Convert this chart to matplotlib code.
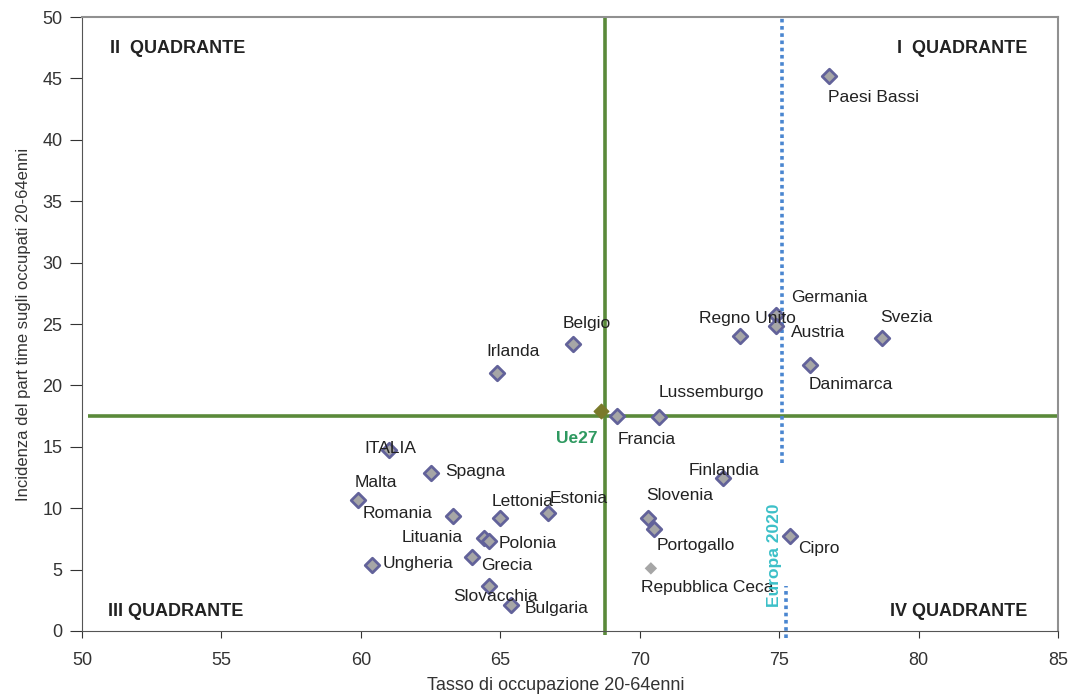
import numpy as np
import matplotlib
matplotlib.use("Agg")
import matplotlib.pyplot as plt

plt.rcParams['font.family'] = ['Liberation Sans', 'DejaVu Sans']

# data
countries = ["Paesi Bassi", "Germania", "Austria", "Regno Unito", "Svezia", "Danimarca",
             "Belgio", "Irlanda", "Lussemburgo", "Francia", "Finlandia", "Slovenia",
             "Portogallo", "Cipro", "ITALIA", "Spagna", "Malta", "Romania",
             "Lettonia", "Estonia", "Lituania", "Polonia", "Grecia", "Ungheria",
             "Slovacchia", "Bulgaria"]
employment = [76.8, 74.9, 74.9, 73.6, 78.7, 76.1,
              67.6, 64.9, 70.7, 69.2, 73.0, 70.3,
              70.5, 75.4, 61.0, 62.5, 59.9, 63.3,
              65.0, 66.7, 64.4, 64.6, 64.0, 60.4,
              64.6, 65.4]
part_time = [45.2, 25.7, 24.8, 24.0, 23.9, 21.7,
             23.4, 21.0, 17.4, 17.5, 12.5, 9.2,
             8.3, 7.7, 14.7, 12.9, 10.7, 9.4,
             9.2, 9.6, 7.6, 7.3, 6.0, 5.4,
             3.7, 2.1]

# Czech Republic drawn differently in the original
cz_name = "Repubblica Ceca"
cz_employment = 70.4
cz_part_time = 5.1

# EU27 average and Europe 2020 target
eu_employment = 68.6
eu_part_time = 17.9
eu_vline = 68.75
eu_hline = 17.5
target_2020 = 75.1

# label offsets in pixels (dx, dy, ha)
offsets = {
    "Paesi Bassi": (-1, -22, 'left'), "Germania": (15, 18, 'left'),
    "Austria": (15, -6, 'left'), "Regno Unito": (7, 18, 'center'),
    "Svezia": (-2, 20, 'left'), "Danimarca": (-1, -20, 'left'),
    "Belgio": (14, 20, 'center'), "Irlanda": (16, 22, 'center'),
    "Lussemburgo": (-1, 25, 'left'), "Francia": (0, -23, 'left'),
    "Finlandia": (1, 7, 'center'), "Slovenia": (-2, 23, 'left'),
    "Portogallo": (3, -16, 'left'), "Cipro": (8, -12, 'left'),
    "ITALIA": (2, 2, 'center'), "Spagna": (15, 1, 'left'),
    "Malta": (-3, 17, 'left'), "Romania": (-20, 2, 'right'),
    "Lettonia": (-9, 17, 'left'), "Estonia": (2, 15, 'left'),
    "Lituania": (-21, 0, 'right'), "Polonia": (9, -2, 'left'),
    "Grecia": (9, -8, 'left'), "Ungheria": (11, 1, 'left'),
    "Slovacchia": (-36, -11, 'left'), "Bulgaria": (13, -3, 'left'),
}

fig = plt.figure(figsize=(10.77, 6.98), dpi=100)
ax = fig.add_axes([0.0761, 0.096, 0.9063, 0.8796])

green = '#5a8a3a'
ax.plot([50.2, 85], [eu_hline, eu_hline], color=green, lw=2.6, zorder=2, solid_capstyle='butt')
ax.plot([eu_vline, eu_vline], [-0.3, 50], color=green, lw=2.6, zorder=2, clip_on=False,
        solid_capstyle='butt')

blue = '#4a86d0'
ax.plot([target_2020, target_2020], [13.7, 50], color=blue, lw=2.6, ls=(0, (1, 1)), zorder=2)
ax.plot([target_2020 + 0.15, target_2020 + 0.15], [-0.6, 3.7], color=blue, lw=2.6,
        ls=(0, (1, 1)), zorder=2, clip_on=False)

ax.scatter(employment, part_time, marker='D', s=55, facecolor='#a6a6a6',
           edgecolor='#62629a', linewidth=2, zorder=4)
ax.scatter([cz_employment], [cz_part_time], marker='D', s=40, facecolor='#a6a6a6',
           edgecolor='none', zorder=4)
ax.scatter([eu_employment], [eu_part_time], marker='D', s=55, facecolor='#7a7a2a',
           edgecolor='#7a7a2a', zorder=5)

lab = dict(fontsize=12.5, color='#222222', va='center', zorder=6)
for name, x, y in zip(countries, employment, part_time):
    dx, dy, ha = offsets[name]
    ax.annotate(name, (x, y), xytext=(dx, dy), textcoords='offset pixels', ha=ha, **lab)
ax.annotate(cz_name, (cz_employment, cz_part_time), xytext=(-10, -19),
            textcoords='offset pixels', ha='left', **lab)
ax.annotate("Ue27", (eu_employment, eu_part_time), xytext=(-3, -27),
            textcoords='offset pixels', ha='right', va='center', fontsize=12.5,
            fontweight='bold', color='#2e9960', zorder=6)
ax.text(target_2020 - 0.25, 6.2, "Europa 2020", rotation=90, ha='center', va='center',
        fontsize=12.5, fontweight='bold', color='#3cc0c8', zorder=6)

qkw = dict(fontsize=13, fontweight='bold', color='#222222', va='center')
ax.text(51.0, 47.4, "II  QUADRANTE", ha='left', **qkw)
ax.text(83.9, 47.4, "I  QUADRANTE", ha='right', **qkw)
ax.text(50.95, 1.6, "III QUADRANTE", ha='left', **qkw)
ax.text(83.9, 1.6, "IV QUADRANTE", ha='right', **qkw)

ax.set_xlim(50, 85)
ax.set_ylim(0, 50)
ax.set_xticks(np.arange(50, 86, 5))
ax.set_yticks(np.arange(0, 51, 5))
ax.tick_params(direction='out', labelsize=13, colors='#333333')
ax.xaxis.set_tick_params(length=5, pad=10)
ax.yaxis.set_tick_params(length=9, pad=5)
for s in ['top', 'right']:
    ax.spines[s].set_color('#909090')
    ax.spines[s].set_linewidth(1.5)
for s in ['left', 'bottom']:
    ax.spines[s].set_color('#555555')

ax.set_xlabel("Tasso di occupazione 20-64enni", fontsize=13, color='#333333')
ax.xaxis.set_label_coords(0.485, -0.075)
ax.set_ylabel("Incidenza del part time sugli occupati 20-64enni", fontsize=12,
              color='#333333', labelpad=8)

fig.savefig("out.png", dpi=100)
